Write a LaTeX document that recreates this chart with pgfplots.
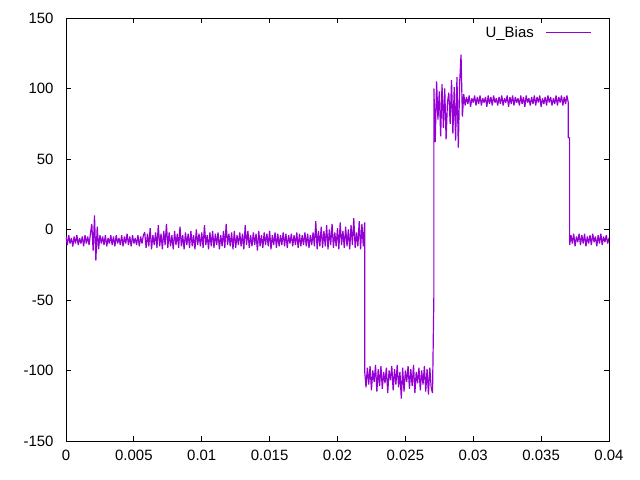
\documentclass[border=0pt]{standalone}
\usepackage{pgfplots}
\pgfplotsset{compat=1.18}
\usepackage{fontspec}
\setmainfont{Liberation Sans}
\definecolor{gpviolet}{RGB}{148,0,211}
\begin{document}
\begin{tikzpicture}
\path[use as bounding box] (-66bp,-39bp) rectangle (574bp,441bp);
\begin{axis}[
  at={(0,0)}, anchor=south west,
  scale only axis, width=543bp, height=423bp,
  xmin=0, xmax=0.04, ymin=-150, ymax=150,
  scaled x ticks=false,
  xtick={0,0.005,0.01,0.015,0.02,0.025,0.03,0.035,0.04},
  xticklabels={0,0.005,0.01,0.015,0.02,0.025,0.03,0.035,0.04},
  ytick={-150,-100,-50,0,50,100,150},
  tick align=inside, major tick length=5bp,
  xtick pos=both, ytick pos=both,
  /pgf/number format/assume math mode=true,
  every tick label/.append style={font=\fontsize{15}{18}\selectfont},
  yticklabel style={xshift=-9bp},
  xticklabel style={yshift=-6bp},
  axis line style={line width=0.8bp},
  every tick/.style={black, line width=0.8bp},
  legend style={draw=none, fill=none, at={(1,1)}, anchor=north east, xshift=-14bp, yshift=-4bp, font=\fontsize{15}{18}\selectfont, /tikz/column sep=10bp},
  legend plot pos=right,
  legend image code/.code={\draw[#1, line width=1bp] (0bp,0bp) -- (45bp,0bp);},
]
\addplot[gpviolet, line width=1.2bp, line join=bevel] coordinates {
(0.0000,-5)(0.0001,-11)(0.0002,-4)(0.0003,-10)(0.0004,-6)(0.0005,-12)(0.0006,-5)(0.0007,-10)(0.0008,-4)(0.0009,-11)
(0.0010,-6)(0.0011,-10)(0.0012,-5)(0.0013,-12)(0.0014,-4)(0.0015,-10)(0.0016,-5)(0.0017,-11)
(0.0018,-3)(0.0019,4)(0.0020,-15)(0.0021,10)(0.0022,-22)(0.0023,2)(0.0024,-14)(0.0025,-4)(0.0026,-10)
(0.0027,-5)(0.0028,-11)(0.0029,-4)(0.0030,-12)(0.0031,-6)(0.0032,-10)(0.0033,-4)(0.0034,-11)(0.0035,-5)(0.0036,-12)
(0.0037,-4)(0.0038,-10)(0.0039,-6)(0.0040,-11)(0.0041,-4)(0.0042,-12)(0.0043,-5)(0.0044,-10)(0.0045,-3)(0.0046,-11)
(0.0047,-5)(0.0048,-12)(0.0049,-4)(0.0050,-10)(0.0051,-6)(0.0052,-11)(0.0053,-4)(0.0054,-12)(0.0055,-5)(0.0056,-10)(0.0057,-4)
(0.0058,-2)(0.0059,-13)(0.0060,-3)(0.0061,-12)(0.0062,1)(0.0063,-14)(0.0064,-4)(0.0065,-11)(0.0066,-2)(0.0067,-13)
(0.0068,3)(0.0069,-12)(0.0070,-3)(0.0071,-14)(0.0072,-1)(0.0073,-11)(0.0074,4)(0.0075,-13)(0.0076,-2)(0.0077,-12)
(0.0078,-4)(0.0079,-14)(0.0080,-1)(0.0081,-11)(0.0082,-3)(0.0083,-13)(0.0084,2)(0.0085,-12)(0.0086,-4)(0.0087,-14)
(0.0088,-2)(0.0089,-11)(0.0090,-3)(0.0091,-13)(0.0092,-1)(0.0093,-12)(0.0094,-4)(0.0095,-14)(0.0096,0)(0.0097,-11)
(0.0098,-3)(0.0099,-12)(0.0100,-2)(0.0101,-13)(0.0102,3)(0.0103,-11)(0.0104,-4)(0.0105,-14)(0.0106,-2)(0.0107,-12)
(0.0108,-1)(0.0109,-13)(0.0110,-3)(0.0111,-11)(0.0112,-2)(0.0113,-14)(0.0114,-4)(0.0115,-12)(0.0116,-1)(0.0117,-13)
(0.0118,4)(0.0119,-11)(0.0120,-3)(0.0121,-12)(0.0122,-2)(0.0123,-14)(0.0124,-1)(0.0125,-13)(0.0126,-4)(0.0127,-11)
(0.0128,-2)(0.0129,-12)(0.0130,-3)(0.0131,-14)(0.0132,3)(0.0133,-11)(0.0134,-1)(0.0135,-13)(0.0136,-4)(0.0137,-12)
(0.0138,-2)(0.0139,-11)(0.0140,-3)(0.0141,-15)(0.0142,-1)(0.0143,-12)(0.0144,-4)(0.0145,-13)(0.0146,-2)(0.0147,-11)
(0.0148,-3)(0.0149,-12)(0.0150,-1)(0.0151,-14)(0.0152,-4)(0.0153,-11)(0.0154,-2)(0.0155,-13)(0.0156,-3)(0.0157,-12)
(0.0158,-4)(0.0159,-11)(0.0160,-2)(0.0161,-12)(0.0162,-3)(0.0163,-13)(0.0164,-4)(0.0165,-10)(0.0166,-3)(0.0167,-12)
(0.0168,-4)(0.0169,-11)(0.0170,-2)(0.0171,-13)(0.0172,-3)(0.0173,-12)(0.0174,-4)(0.0175,-11)(0.0176,-2)(0.0177,-12)
(0.0178,-3)(0.0179,-13)(0.0180,-4)(0.0181,-11)(0.0182,-2)(0.0183,-12)(0.0184,6)(0.0185,-14)(0.0186,-1)(0.0187,-12)
(0.0188,2)(0.0189,-13)(0.0190,-1)(0.0191,-12)(0.0192,3)(0.0193,-14)(0.0194,0)(0.0195,-11)(0.0196,4)(0.0197,-13)
(0.0198,-2)(0.0199,-12)(0.0200,1)(0.0201,-14)(0.0202,5)(0.0203,-11)(0.0204,-1)(0.0205,-13)(0.0206,2)(0.0207,-12)
(0.0208,0)(0.0209,-14)(0.0210,3)(0.0211,-11)(0.0212,8)(0.0213,-13)(0.0214,-2)(0.0215,-12)(0.0216,6)(0.0217,-14)
(0.0218,4)(0.0219,-12)(0.0220,5)
(0.0220,-100)
(0.0221,-112)(0.0222,-98)(0.0223,-110)(0.0224,-97)(0.0225,-114)(0.0226,-100)(0.0227,-108)(0.0228,-96)(0.0229,-115)(0.0230,-99)
(0.0231,-111)(0.0232,-97)(0.0233,-113)(0.0234,-101)(0.0235,-109)(0.0236,-98)(0.0237,-116)(0.0238,-100)(0.0239,-107)(0.0240,-97)
(0.0241,-114)(0.0242,-99)(0.0243,-110)(0.0244,-96)(0.0245,-112)(0.0246,-101)(0.0247,-120)(0.0248,-98)(0.0249,-115)(0.0250,-100)
(0.0251,-108)(0.0252,-97)(0.0253,-113)(0.0254,-99)(0.0255,-111)(0.0256,-96)(0.0257,-116)(0.0258,-101)(0.0259,-109)(0.0260,-98)
(0.0261,-114)(0.0262,-100)(0.0263,-110)(0.0264,-97)(0.0265,-115)(0.0266,-99)(0.0267,-117)(0.0268,-98)(0.0269,-112)(0.0270,-116)
(0.0271,-47)
(0.0271,100)(0.0272,62)(0.0273,105)(0.0274,78)(0.0275,98)(0.0276,66)(0.0277,103)(0.0278,72)(0.0279,100)(0.0280,64)(0.0281,90)
(0.0282,97)(0.0283,75)(0.0284,106)(0.0285,68)(0.0286,101)(0.0287,63)(0.0288,108)(0.0289,58)(0.0290,104)(0.0291,124)
(0.0292,80)(0.0293,96)
(0.0294,88)(0.0295,94)(0.0296,89)(0.0297,95)(0.0298,87)(0.0299,93)(0.0300,90)(0.0301,95)(0.0302,88)(0.0303,94)
(0.0304,89)(0.0305,95)(0.0306,88)(0.0307,93)(0.0308,90)(0.0309,94)(0.0310,87)(0.0311,95)(0.0312,89)(0.0313,94)
(0.0314,88)(0.0315,95)(0.0316,90)(0.0317,93)(0.0318,88)(0.0319,94)(0.0320,89)(0.0321,95)(0.0322,88)(0.0323,93)
(0.0324,90)(0.0325,95)(0.0326,87)(0.0327,94)(0.0328,89)(0.0329,95)(0.0330,88)(0.0331,94)(0.0332,90)(0.0333,93)
(0.0334,88)(0.0335,95)(0.0336,89)(0.0337,94)(0.0338,87)(0.0339,95)(0.0340,90)(0.0341,93)(0.0342,88)(0.0343,94)
(0.0344,89)(0.0345,95)(0.0346,88)(0.0347,94)(0.0348,90)(0.0349,95)(0.0350,87)(0.0351,93)(0.0352,89)(0.0353,94)
(0.0354,88)(0.0355,95)(0.0356,90)(0.0357,94)(0.0358,88)(0.0359,93)(0.0360,89)(0.0361,95)(0.0362,88)(0.0363,94)
(0.0364,90)(0.0365,95)(0.0366,88)(0.0367,94)(0.0368,89)(0.0369,95)(0.0370,90)
(0.0370,65)(0.0371,65)(0.0371,-11)
(0.0372,-4)(0.0373,-10)(0.0374,-3)(0.0375,-12)(0.0376,-5)(0.0377,-9)(0.0378,-3)(0.0379,-11)(0.0380,-4)(0.0381,-10)
(0.0382,-3)(0.0383,-12)(0.0384,-5)(0.0385,-10)(0.0386,-4)(0.0387,-11)(0.0388,-3)(0.0389,-9)(0.0390,-5)(0.0391,-12)
(0.0392,-4)(0.0393,-10)(0.0394,-3)(0.0395,-11)(0.0396,-5)(0.0397,-9)(0.0398,-4)(0.0399,-10)(0.0400,-6)
};
\addlegendentry{U\_Bias}
\end{axis}
\end{tikzpicture}
\end{document}
